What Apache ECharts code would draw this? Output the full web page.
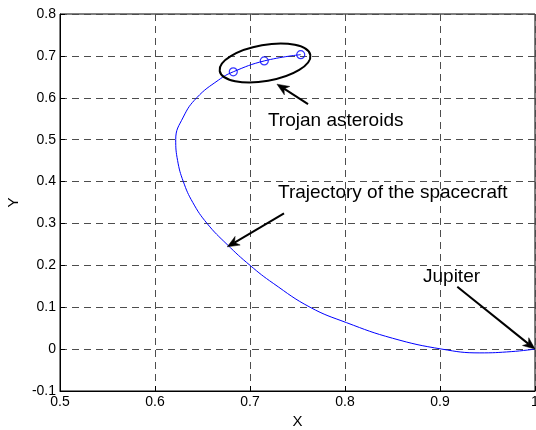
<!DOCTYPE html>
<html>
<head>
<meta charset="utf-8">
<script src="https://cdn.jsdelivr.net/npm/echarts@6/dist/echarts.min.js"></script>
<style>
  html, body { margin: 0; padding: 0; background: #fff; }
  #main { width: 536px; height: 430px; }
</style>
</head>
<body>
<div id="main"></div>
<script>
// trajectory, from the asteroids down to Jupiter
var trajX = [0.7534, 0.715, 0.6824, 0.6667, 0.6439, 0.6298, 0.6218, 0.6238, 0.6298, 0.6398, 0.6548, 0.6758, 0.700, 0.7245, 0.7632, 0.8018, 0.850, 0.902, 0.942, 0.975, 1.0];
var trajY = [0.703, 0.688, 0.662, 0.642, 0.600, 0.554, 0.500, 0.450, 0.400, 0.350, 0.300, 0.250, 0.200, 0.157, 0.100, 0.063, 0.026, 0.000, -0.009, -0.006, 0.0];
// the three marked points (trojan asteroids)
var asteroidX = [0.6824, 0.715, 0.7534];
var asteroidY = [0.662, 0.688, 0.703];
var xTicks = [0.5, 0.6, 0.7, 0.8, 0.9, 1];
var yTicks = [-0.1, 0, 0.1, 0.2, 0.3, 0.4, 0.5, 0.6, 0.7, 0.8];

var FONT = 'Liberation Sans, Arial, sans-serif';

var trajData = trajX.map(function (x, i) { return [x, trajY[i]]; });
var astData = asteroidX.map(function (x, i) { return [x, asteroidY[i]]; });

var myChart = echarts.init(document.getElementById('main'));

var gridLine = { show: true, lineStyle: { color: '#4d4d4d', width: 1, type: [7, 5] } };

var option = {
    animation: false,
    backgroundColor: '#fff',
    grid: { left: 60, right: 1, top: 14, bottom: 39, show: true, borderColor: '#000', borderWidth: 1,
        containLabel: false, outerBoundsMode: 'none' },
    xAxis: {
        type: 'value', min: xTicks[0], max: xTicks[xTicks.length - 1], interval: 0.1,
        name: 'X', nameLocation: 'middle', nameGap: 22,
        nameTextStyle: { fontFamily: FONT, fontSize: 15, color: '#000' },
        axisLine: { onZero: false, lineStyle: { color: '#000', width: 1 } },
        axisTick: { inside: true, length: 5, lineStyle: { color: '#000' } },
        axisLabel: { fontFamily: FONT, fontSize: 14, color: '#000', margin: 4,
            formatter: function (v) { return String(+v.toFixed(1)); } },
        splitLine: gridLine
    },
    yAxis: {
        type: 'value', min: yTicks[0], max: yTicks[yTicks.length - 1], interval: 0.1,
        name: 'Y', nameLocation: 'middle', nameGap: 35, nameRotate: 90,
        nameTextStyle: { fontFamily: FONT, fontSize: 15, color: '#000' },
        axisLine: { onZero: false, lineStyle: { color: '#000', width: 1 } },
        axisTick: { inside: true, length: 5, lineStyle: { color: '#000' } },
        axisLabel: { fontFamily: FONT, fontSize: 14, color: '#000', margin: 4,
            formatter: function (v) { return String(+v.toFixed(1)); } },
        splitLine: gridLine
    },
    series: [{
        type: 'line',
        data: trajData,
        smooth: 0.45,
        showSymbol: false,
        lineStyle: { color: '#0000ff', width: 1 },
        z: 3
    }, {
        type: 'scatter',
        data: astData,
        symbol: 'circle',
        symbolSize: 8,
        itemStyle: { color: 'rgba(0,0,0,0)', borderColor: '#0000ff', borderWidth: 1.2 },
        z: 4
    }]
};

myChart.setOption(option);

// annotations, anchored in data coordinates
var ellipseAt = [0.7158, 0.683];
var arrows = [
    { from: [0.7611, 0.5847], to: [0.7284, 0.6325] },
    { from: [0.7358, 0.3239], to: [0.6761, 0.2442] },
    { from: [0.9182, 0.1487], to: [1.0, 0.0] }
];
var notes = [
    { text: 'Trojan asteroids', at: [0.7189, 0.5453] },
    { text: 'Trajectory of the spacecraft', at: [0.7295, 0.3723] },
    { text: 'Jupiter', at: [0.8821, 0.1718] }
];

function px(p) { return myChart.convertToPixel({ gridIndex: 0 }, p); }

var graphics = [];
var c = px(ellipseAt);
graphics.push({
    type: 'ellipse', x: c[0], y: c[1], rotation: 10 * Math.PI / 180,
    shape: { cx: 0, cy: 0, rx: 46, ry: 18 },
    style: { fill: null, stroke: '#000', lineWidth: 2 }, z: 10
});
arrows.forEach(function (a) {
    var p0 = px(a.from), p1 = px(a.to);
    var dx = p1[0] - p0[0], dy = p1[1] - p0[1];
    var len = Math.sqrt(dx * dx + dy * dy);
    var ux = dx / len, uy = dy / len, nx = -uy, ny = ux;
    var hl = 12, hw = 5;
    var base = [p1[0] - ux * hl, p1[1] - uy * hl];
    var notch = [p1[0] - ux * hl * 0.7, p1[1] - uy * hl * 0.7];
    graphics.push({
        type: 'line', shape: { x1: p0[0], y1: p0[1], x2: notch[0], y2: notch[1] },
        style: { stroke: '#000', lineWidth: 2 }, z: 10
    });
    graphics.push({
        type: 'polygon',
        shape: { points: [p1, [base[0] + nx * hw, base[1] + ny * hw], notch, [base[0] - nx * hw, base[1] - ny * hw]] },
        style: { fill: '#000', stroke: '#000', lineWidth: 0.5 }, z: 10
    });
});
notes.forEach(function (n) {
    var p = px(n.at);
    graphics.push({
        type: 'text', x: p[0], y: p[1],
        style: { text: n.text, fill: '#000', font: '19px ' + FONT, textAlign: 'left', textVerticalAlign: 'middle' },
        z: 10
    });
});

myChart.setOption({ graphic: graphics });
</script>
</body>
</html>
